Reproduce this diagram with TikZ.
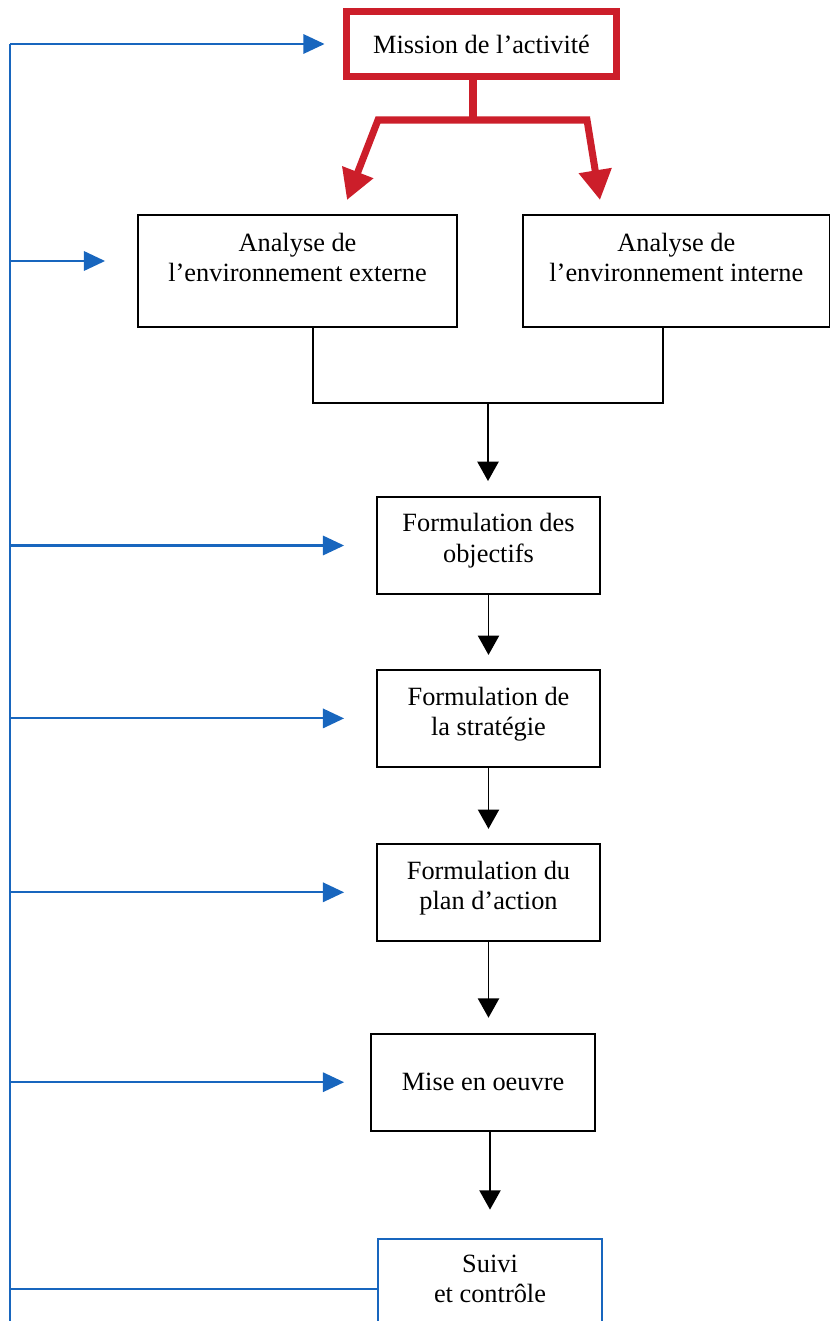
\documentclass[tikz,border=0pt]{standalone}
\usepackage{fontspec}
\setmainfont{Liberation Serif}
\usepackage{xcolor}
\usepackage{tikz}
\usetikzlibrary{arrows.meta,positioning}

\definecolor{missionred}{RGB}{204,30,42}
\definecolor{feedblue}{RGB}{24,102,190}

\begin{document}
\begin{tikzpicture}[x=0.02cm, y=-0.02cm,
  procbox/.style={rectangle, draw=black, line width=1.1pt, text centered, align=center, inner sep=2pt, font=\fontsize{15}{17.5}\selectfont},
  colbox/.style={procbox, minimum width=4.46cm, minimum height=1.94cm},
  flow/.style={draw=black, line width=1.1pt, -{Triangle[length=11pt,width=12pt]}},
  feedback/.style={draw=feedblue, line width=1.2pt},
  feedarrow/.style={feedback, -{Triangle[length=12pt,width=11pt]}},
  redline/.style={draw=missionred, line width=4pt, line join=miter}]
\useasboundingbox (0,0) rectangle (829,1321);

\node (mission) [procbox, draw=missionred, line width=4pt, minimum width=5.4cm, minimum height=1.3cm] at (481.5,44) {Mission de l’activité};

\node (ext) [procbox, minimum width=6.38cm, minimum height=2.24cm, text depth=15.6pt] at (297.5,271) {Analyse de\\l’environnement externe};
\node (int) [procbox, minimum width=6.14cm, minimum height=2.24cm, text depth=15.6pt, right=1.28cm of ext] {Analyse de\\l’environnement interne};

\node (obj) [colbox, text depth=8.3pt] at (488.5,545.5) {Formulation des\\objectifs};
\node (strat) [colbox, text depth=8pt, below=1.48cm of obj] {Formulation de\\la stratégie};
\node (plan) [colbox, text depth=8pt, below=1.5cm of strat] {Formulation du\\plan d’action};
\node (mise) [colbox, minimum width=4.48cm, below=1.82cm of plan, xshift=-0.11cm] {Mise en oeuvre};
\node (suivi) [colbox, draw=feedblue, minimum width=4.48cm, minimum height=2cm, text depth=11.2pt, below=2.12cm of mise, xshift=0.14cm] {Suivi\\et contrôle};

% red fork under the mission
\coordinate (fork) at (473,120);
\coordinate (barL) at (378,120);
\coordinate (barR) at (587,120);
\coordinate (tipL) at (347,200);
\coordinate (tipR) at (600,200);
\draw[redline] (mission.south -| fork) -- (fork);
\draw[redline, {Triangle[length=17pt,width=18pt]}-{Triangle[length=17pt,width=18pt]}] (tipL) -- (barL) -- (barR) -- (tipR);

% joining the two analyses
\coordinate (jl) at (313,403);
\coordinate (jr) at (663,403);
\coordinate (join) at (488,403);
\draw[line width=1.1pt] (ext.south -| jl) -- (jl) -- (jr) -- (int.south -| jr);
\draw[flow, shorten >=0.3cm] (join) -- (join |- obj.north);

\draw[flow, shorten >=0.28cm] (obj) -- (strat);
\draw[flow, shorten >=0.28cm] (strat) -- (plan);
\draw[flow, shorten >=0.3cm] (plan.south) -- (plan.south |- mise.north);
\draw[flow, shorten >=0.56cm] (mise.south -| suivi.north) -- (suivi.north);

% feedback loop
\coordinate (fbtop) at (10,44);
\coordinate (fbend) at (10,1321);
\coordinate (extin) at ([yshift=0.2cm]ext.west);
\draw[feedback] (fbtop) -- (fbend);
\draw[feedarrow, shorten >=0.37cm] (fbtop) -- (mission.west);
\draw[feedarrow, shorten >=0.64cm] (fbtop |- extin) -- (extin);
\draw[feedarrow, shorten >=0.64cm] (fbtop |- obj.west) -- (obj.west);
\draw[feedarrow, shorten >=0.64cm] (fbtop |- strat.west) -- (strat.west);
\draw[feedarrow, shorten >=0.64cm] (fbtop |- plan.west) -- (plan.west);
\draw[feedarrow, shorten >=0.52cm] (fbtop |- mise.west) -- (mise.west);
\draw[feedback] (fbtop |- suivi.west) -- (suivi.west);

\end{tikzpicture}
\end{document}
